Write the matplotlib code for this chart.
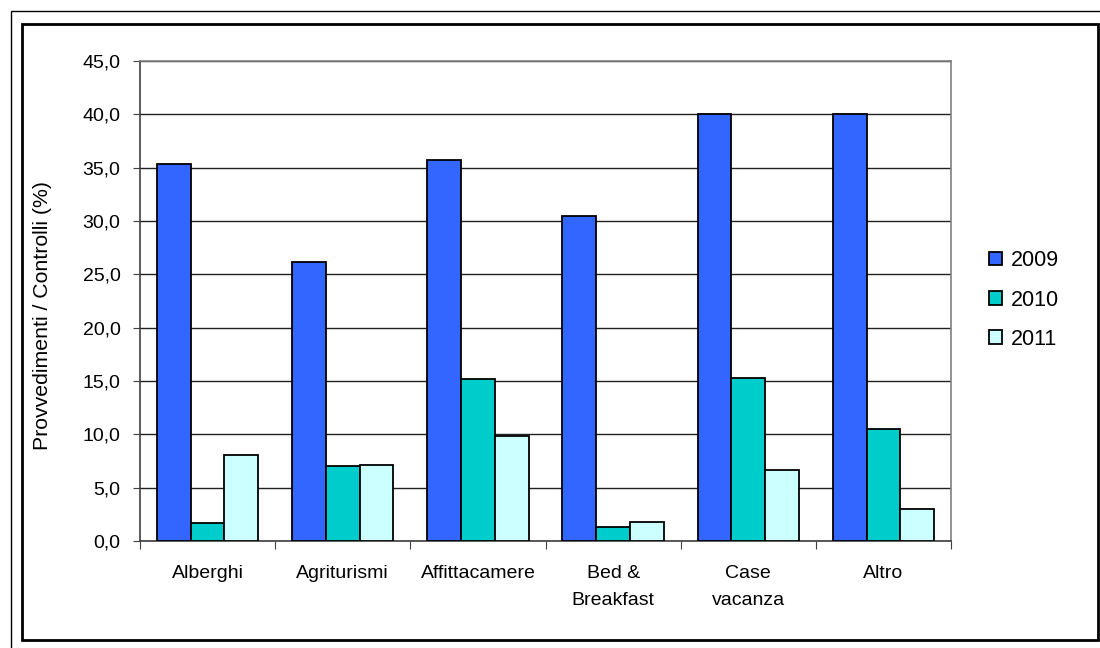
import numpy as np
import matplotlib.pyplot as plt
from matplotlib.patches import Rectangle

plt.rcParams['font.family'] = ['Liberation Sans', 'DejaVu Sans']

categorie = ['Alberghi', 'Agriturismi', 'Affittacamere', 'Bed &\nBreakfast',
             'Case\nvacanza', 'Altro']
anni = ['2009', '2010', '2011']
v2009 = [35.3, 26.2, 35.7, 30.5, 40.0, 40.0]
v2010 = [1.7, 7.0, 15.2, 1.3, 15.3, 10.5]
v2011 = [8.1, 7.1, 9.8, 1.8, 6.7, 3.0]
colori = ['#3366ff', '#00cccc', '#ccffff']

W, H = 1100, 648
fig = plt.figure(figsize=(W / 100, H / 100), dpi=100)

# cornici esterne
fig.add_artist(Rectangle((11 / W, -0.1), 1.2, 1 - 11 / H + 0.1, transform=fig.transFigure,
                         fill=False, lw=1.0, ec='black'))
fig.add_artist(Rectangle((22 / W, 1 - 640 / H), (1098 - 22) / W, (640 - 24) / H,
                         transform=fig.transFigure, fill=False, lw=2.0, ec='black'))

ax = fig.add_axes([140 / W, 1 - 541 / H, (951 - 140) / W, (541 - 61) / H])

x = np.arange(len(categorie)) + 0.5
w = 0.25
for k, (serie, col, anno) in enumerate(zip([v2009, v2010, v2011], colori, anni)):
    ax.bar(x + (k - 1) * w, serie, w, color=col, edgecolor='black', lw=1.3,
           label=anno, zorder=3)

ax.set_xlim(0, len(categorie))
ax.set_ylim(0, 45)
ax.set_yticks(np.arange(0, 46, 5))
ax.set_yticklabels([f'{v:.1f}'.replace('.', ',') for v in np.arange(0, 46, 5)], fontsize=14)
ax.yaxis.grid(True, color='#202020', lw=1.0, zorder=0)

ax.set_xticks(np.arange(len(categorie) + 1))
ax.set_xticklabels([])
ax.set_xticks(x, minor=True)
ax.set_xticklabels(categorie, minor=True, fontsize=14, linespacing=1.8)
ax.tick_params(axis='x', which='major', length=6, direction='out', color='#404040')
ax.tick_params(axis='x', which='minor', length=0, pad=17)
ax.tick_params(axis='y', length=5, direction='out', color='#404040', pad=9)

for s in ['top', 'right']:
    ax.spines[s].set_color('#808080')
for s in ['left', 'bottom']:
    ax.spines[s].set_color('#404040')
for s in ax.spines.values():
    s.set_linewidth(1.2)

ax.set_ylabel('Provvedimenti / Controlli (%)', fontsize=15.3)
ax.yaxis.set_label_coords(-0.108, 0.469)

fig.legend(loc='center left', bbox_to_anchor=(970 / W, 1 - 300 / H), frameon=False,
           fontsize=15.5, handlelength=0.6, handleheight=0.6, handletextpad=0.4,
           labelspacing=0.85)

fig.savefig('out.png', dpi=100)
